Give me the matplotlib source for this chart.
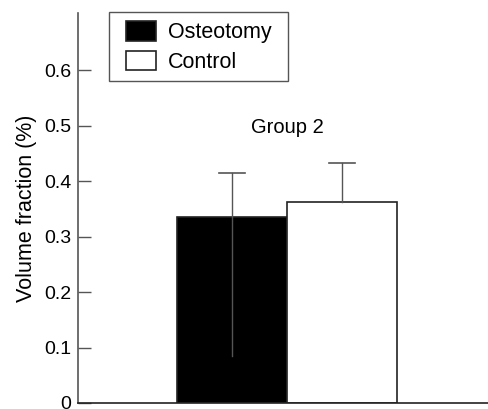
import matplotlib
matplotlib.use("Agg")
import matplotlib.pyplot as plt
from matplotlib.patches import Rectangle

# Group 2 volume fraction data
groups = ["Osteotomy", "Control"]
means = [0.335, 0.362]
err_low = [0.25, 0.0]
err_high = [0.079, 0.07]
colors = ["black", "white"]
yticks = [0, 0.1, 0.2, 0.3, 0.4, 0.5, 0.6]
ytick_labels = ["0", "0.1", "0.2", "0.3", "0.4", "0.5", "0.6"]

plt.rcParams['font.family'] = ['Liberation Sans', 'DejaVu Sans']

W, H = 489, 409
fig = plt.figure(figsize=(W / 100, H / 100), dpi=100)
ax = fig.add_axes([0.1595, 0.0147, 0.8385, 0.9533])

pos = list(range(len(groups)))
bars = ax.bar(pos, means, width=1.0, color=colors, edgecolor='#222222',
              linewidth=1.2, label=groups, zorder=2)

# error bars: whisker lines, cap only on top
for x, m, lo, hi in zip(pos, means, err_low, err_high):
    ax.plot([x, x], [m - lo, m + hi], color='#555555', lw=1.0, zorder=3)
    ax.plot([x - 0.12, x + 0.12], [m + hi, m + hi], color='#555555', lw=1.2, zorder=3)

ax.text(0.5, 0.497, "Group 2", ha='center', va='center', fontsize=14.5)

ax.set_xlim(-1.4, 2.327)
ax.set_ylim(0, 0.703)
ax.set_xticks([])
ax.set_yticks(yticks)
ax.set_yticklabels(ytick_labels, fontsize=14)
ax.tick_params(axis='y', direction='in', length=9.5, width=1, color='#555555', pad=5)
ax.set_ylabel("Volume fraction (%)", fontsize=15.5, labelpad=5)

for s in ['top', 'right']:
    ax.spines[s].set_visible(False)
ax.spines['left'].set_color('#555555')
ax.spines['bottom'].set_color('#222222')
ax.spines['left'].set_linewidth(1.2)
ax.spines['bottom'].set_linewidth(1.2)

# legend without its own frame; box drawn separately for wider side padding
leg = ax.legend(handles=bars, labels=groups, loc='upper left',
                bbox_to_anchor=(117 / W, 1 - 12 / H), bbox_transform=fig.transFigure,
                fontsize=15.5, frameon=False, handlelength=1.4,
                handleheight=1.0, borderpad=0.43, labelspacing=0.35, handletextpad=0.55,
                borderaxespad=0)
box = Rectangle((109 / W, 1 - 81 / H), 179 / W, 69 / H, transform=fig.transFigure,
                fill=False, edgecolor='#555555', linewidth=1.0)
fig.add_artist(box)

fig.savefig("out.png", dpi=100)
